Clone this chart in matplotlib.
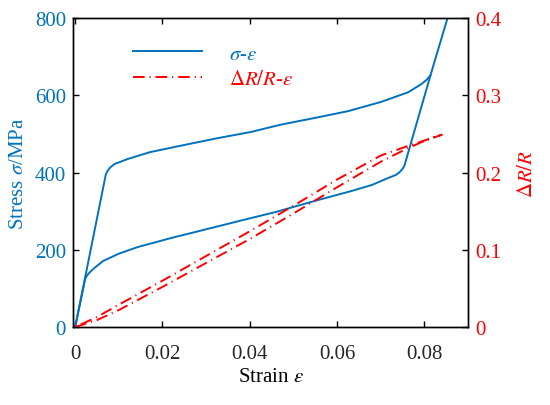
import numpy as np
import matplotlib.pyplot as plt
from matplotlib.lines import Line2D

plt.rcParams['font.family'] = ['Liberation Serif', 'DejaVu Serif']
plt.rcParams['mathtext.fontset'] = 'stix'

# blue: stress-strain loop (loading branch, then unloading branch)
strain_load = [0, 0.0023, 0.0027, 0.0032, 0.0043, 0.0064, 0.0100, 0.0143, 0.0218, 0.0303,
               0.0402, 0.0460, 0.0500, 0.0560, 0.0632, 0.0680, 0.0717, 0.0735, 0.0743,
               0.0749, 0.0754, 0.0814, 0.0825, 0.0853]
stress_load = [0, 125, 133, 140, 152, 171, 190, 207, 230, 254,
               282, 298, 311, 330, 352, 368, 386, 394, 401,
               408, 417, 652, 694, 800]
strain_unl = [0, 0.0070, 0.0074, 0.0080, 0.0090, 0.0120, 0.0172, 0.0248, 0.0326, 0.0402,
              0.0471, 0.0547, 0.0625, 0.0701, 0.0763, 0.0793, 0.0805, 0.0814]
stress_unl = [0, 394, 404, 413, 422, 435, 453, 471, 489, 505,
              524, 541, 559, 583, 608, 629, 640, 652]

# red: resistance change loop
strain_r_load = [0, 0.005, 0.010, 0.020, 0.030, 0.040, 0.050, 0.060, 0.070, 0.076, 0.080, 0.084]
dr_load = [0, 0.009, 0.022, 0.052, 0.083, 0.114, 0.147, 0.181, 0.214, 0.231, 0.241, 0.249]
strain_r_unl = [0, 0.005, 0.010, 0.020, 0.030, 0.040, 0.050, 0.060, 0.070, 0.076]
dr_unl = [0, 0.013, 0.029, 0.060, 0.092, 0.124, 0.157, 0.191, 0.222, 0.234]

xticks = [0, 0.02, 0.04, 0.06, 0.08]
xtick_labels = ['0', '0.02', '0.04', '0.06', '0.08']
yticks_l = [0, 200, 400, 600, 800]
yticks_r = [0, 0.1, 0.2, 0.3, 0.4]
ytick_r_labels = ['0', '0.1', '0.2', '0.3', '0.4']

blue = '#0072BD'
red = '#FF0000'
fs = 15

fig = plt.figure(figsize=(5.5, 4.06), dpi=100)
ax = fig.add_axes([0.1327, 0.192, 0.851 - 0.1327, 0.953 - 0.192])
ax2 = ax.twinx()

ax.plot(strain_load, stress_load, color=blue, lw=1.4)
ax.plot(strain_unl, stress_unl, color=blue, lw=1.4)

rx = list(strain_r_load) + list(strain_r_unl[::-1])
ry = list(dr_load) + list(dr_unl[::-1])
ax2.plot(rx, ry, color=red, lw=1.4, dashes=(6, 2.5, 0.6, 2.5))

ax.set_xlim(-0.0005, 0.090)
ax.set_ylim(0, 800)
ax2.set_ylim(0, 0.4)

ax.set_xticks(xticks)
ax.set_xticklabels(xtick_labels)
ax.set_yticks(yticks_l)
ax2.set_yticks(yticks_r)
ax2.set_yticklabels(ytick_r_labels)

ax.tick_params(axis='x', direction='in', top=True, length=4, width=1, pad=12,
               labelsize=fs, labelcolor='#262626')
ax.tick_params(axis='y', direction='in', length=4, width=1, pad=5,
               labelsize=fs, labelcolor=blue)
ax2.tick_params(axis='y', direction='in', length=4, width=1, pad=5,
                labelsize=fs, labelcolor=red)

for a in (ax, ax2):
    for s in a.spines.values():
        s.set_linewidth(1.0)

ax.set_xlabel(r'Strain $\varepsilon$', fontsize=fs, labelpad=3)
ax.set_ylabel(r'Stress $\sigma$/MPa', fontsize=fs, color=blue, labelpad=5)
ax2.set_ylabel(r'$\Delta R/R$', fontsize=fs, color=red, labelpad=12)

handles = [Line2D([], [], color=blue, lw=1.4),
           Line2D([], [], color=red, lw=1.4, dashes=(6, 2.5, 0.6, 2.5))]
labels = [r'$\sigma$-$\varepsilon$', r'$\Delta R/R$-$\varepsilon$']
leg = ax2.legend(handles, labels, loc='upper left', bbox_to_anchor=(0.125, 0.95),
                 frameon=False, fontsize=fs, handlelength=3.3, handletextpad=1.3,
                 labelspacing=0.3, borderpad=0)
leg.get_texts()[0].set_color(blue)
leg.get_texts()[1].set_color(red)

fig.savefig('out.png', dpi=100)
